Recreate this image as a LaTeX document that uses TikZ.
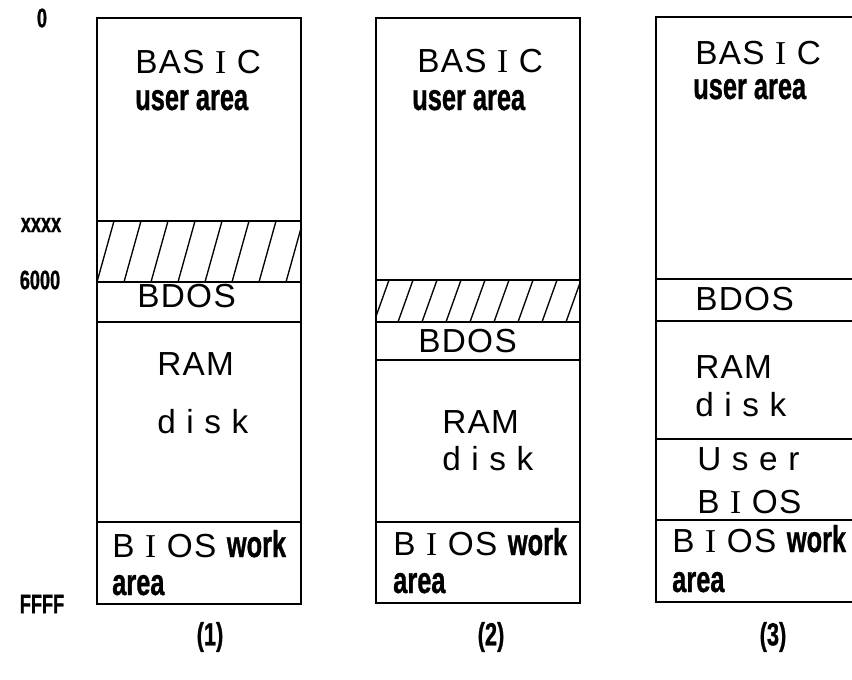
\documentclass[tikz,border=0pt]{standalone}
\usepackage{fontspec}
\newfontfamily\bigtype[LetterSpace=4]{Liberation Sans}
\newfontfamily\condtype[FakeStretch=0.68,FakeBold=0.8]{Liberation Sans}
\newfontfamily\serIfam{Liberation Serif}
\newcommand\sI{{\serIfam I}}
\newcommand\workfont{\condtype\bfseries\fontsize{28}{30}\selectfont}

\begin{document}
\begin{tikzpicture}[x=0.75pt,y=-0.75pt,
	big/.style={font=\bigtype\fontsize{25}{27}\selectfont, anchor=base west, inner sep=0pt},
	small/.style={font=\workfont, anchor=base west, inner sep=0pt},
	addr/.style={font=\condtype\bfseries\fontsize{20}{21}\selectfont, inner sep=0pt},
	caption/.style={font=\condtype\bfseries\fontsize{24}{25}\selectfont, inner sep=0pt},
	box/.style={draw, line width=1.4pt},
	hatch/.style={line width=1pt}]
	
	\useasboundingbox (0,0) rectangle (852,679);
	
	% addresses
	\node[addr] (a0) at (42,18) {0};
	\node[addr] (ax) at (41,225) {xxxx};
	\node[addr] (a6) at (40,280) {6000};
	\node[addr] (af) at (42,604) {FFFF};
	
	% (1)
	\begin{scope}
		\clip (97,221) rectangle (301,282);
		\foreach \x in {70,97,...,320} \draw[hatch] (\x,282) -- (\x+17,221);
	\end{scope}
	\draw[box] (97,18) rectangle (301,604);
	\foreach \y in {221,282,322,522} \draw[box] (97,\y) -- (301,\y);
	\node[big] (basic1) at (135,73) {BAS \sI\ C};
	\node[small] (user1) at (135,110) {user area};
	\node[big] (bdos1) at (137,307) {BDOS};
	\node[big] (ram1) at (157,375) {RAM};
	\node[big] (disk1) at (157,433) {d i s k};
	\node[big] (bios1) at (112,557) {B \sI\ OS {\workfont work}};
	\node[small] (area1) at (112,595) {area};
	\node[caption] (c1) at (210,637) {(1)};
	
	% (2)
	\begin{scope}
		\clip (376,280) rectangle (580,322);
		\foreach \x in {350,374,...,600} \draw[hatch] (\x,322) -- (\x+15,280);
	\end{scope}
	\draw[box] (376,18) rectangle (580,603);
	\foreach \y in {280,322,360,522} \draw[box] (376,\y) -- (580,\y);
	\node[big] (basic2) at (417,72) {BAS \sI\ C};
	\node[small] (user2) at (412,110) {user area};
	\node[big] (bdos2) at (418,352) {BDOS};
	\node[big] (ram2) at (442,433) {RAM};
	\node[big] (disk2) at (442,470) {d i s k};
	\node[big] (bios2) at (393,555) {B \sI\ OS {\workfont work}};
	\node[small] (area2) at (393,593) {area};
	\node[caption] (c2) at (491,637) {(2)};
	
	% (3)
	\draw[box] (656,17) rectangle (870,602);
	\foreach \y in {279,321,439,520} \draw[box] (656,\y) -- (870,\y);
	\node[big] (basic3) at (695,64) {BAS \sI\ C};
	\node[small] (user3) at (693,99) {user area};
	\node[big] (bdos3) at (695,310) {BDOS};
	\node[big] (ram3) at (695,378) {RAM};
	\node[big] (disk3) at (695,416) {d i s k};
	\node[big] (ubios3) at (697,470) {U s e r};
	\node[big] (bios3) at (697,513) {B \sI\ OS};
	\node[big] (work3) at (672,552) {B \sI\ OS {\workfont work}};
	\node[small] (area3) at (672,592) {area};
	\node[caption] (c3) at (773,637) {(3)};
\end{tikzpicture}
\end{document}
